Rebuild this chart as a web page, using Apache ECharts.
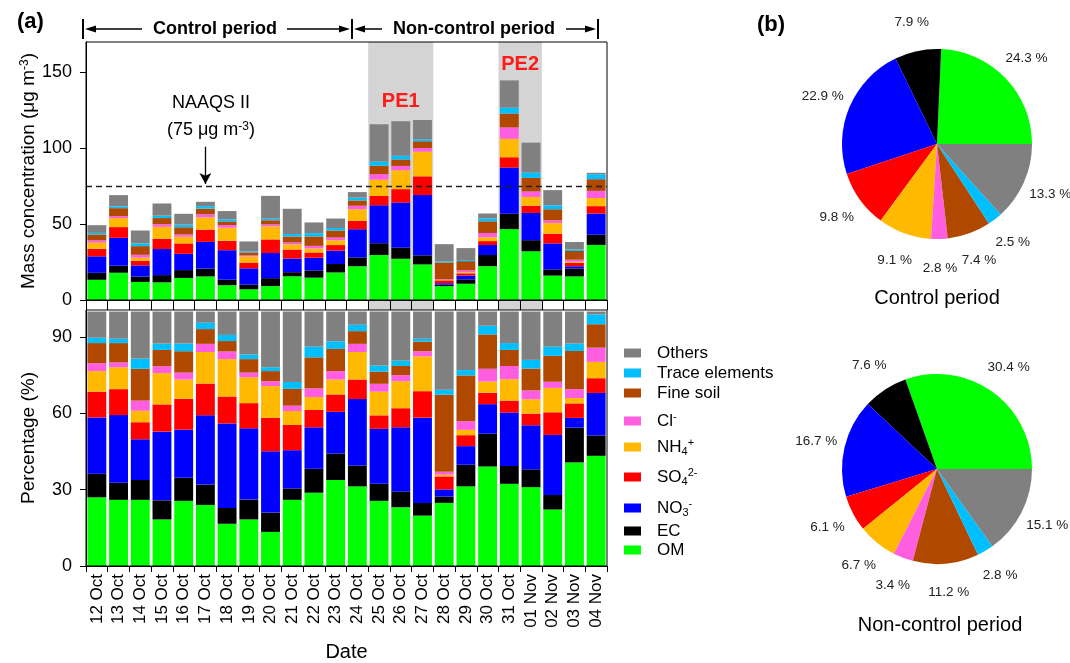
<!DOCTYPE html>
<html><head><meta charset="utf-8">
<script src="https://cdn.jsdelivr.net/npm/echarts@6/dist/echarts.min.js"></script>
<style>html,body{margin:0;padding:0;background:#fff}#c{width:1070px;height:663px}</style>
</head><body><div id="c"></div>
<script>
// ---------------- DATA ----------------
const dates = ['12 Oct','13 Oct','14 Oct','15 Oct','16 Oct','17 Oct','18 Oct','19 Oct','20 Oct','21 Oct','22 Oct','23 Oct','24 Oct','25 Oct','26 Oct','27 Oct','28 Oct','29 Oct','30 Oct','31 Oct','01 Nov','02 Nov','03 Nov','04 Nov'];
// total PM2.5 mass (ug m-3)
const totalMass = [49.3,69.1,45.8,63.6,56.8,64.7,58.6,38.6,68.6,60.1,51.1,53.7,71.1,115.8,117.8,118.6,36.8,34.2,57.0,144.7,103.7,72.4,38.2,83.8];
// daily percentage of each component (%)
const pctOM     = [27.0,26.0,26.0,18.3,25.6,24.0,16.6,18.3,13.4,26.0,28.8,33.8,31.3,25.6,23.1,19.8,24.8,31.3,39.1,32.3,31.0,22.2,40.7,43.3];
const pctEC     = [9.3,6.7,7.8,7.5,9.1,8.0,6.2,7.8,7.6,4.5,9.4,10.4,8.2,6.7,6.2,5.0,2.5,8.5,12.9,7.0,7.0,5.7,13.7,8.0];
const pctNO3    = [22.1,26.6,16.0,27.0,18.9,27.2,33.2,28.0,24.1,15.0,16.3,16.4,26.1,21.6,25.2,33.5,2.8,7.3,11.6,21.0,17.3,23.6,3.8,16.7];
const pctSO4    = [10.1,10.2,6.7,10.7,12.1,12.5,10.6,9.9,13.1,9.9,6.8,6.8,7.7,5.3,7.5,10.4,5.1,4.3,4.5,4.7,4.6,8.9,5.7,5.8];
const pctNH4    = [8.1,8.6,4.5,12.3,7.6,12.4,14.7,10.2,12.5,5.5,5.1,5.9,10.8,9.3,10.6,13.7,0.7,2.1,4.4,8.4,5.6,9.6,2.1,6.4];
const pctCl     = [3.1,1.9,4.0,2.7,2.7,3.2,3.0,1.8,1.9,2.1,3.4,3.3,3.2,3.1,2.4,2.0,1.1,3.4,5.0,5.2,3.5,2.4,3.5,5.6];
const pctSoil   = [7.9,7.6,12.5,6.4,8.4,5.8,4.1,5.3,4.0,6.6,12.2,8.7,5.0,4.8,3.6,3.8,30.3,18.0,13.5,6.3,8.6,10.2,15.0,9.2];
const pctTrace  = [2.1,1.7,4.0,2.5,3.0,2.5,2.4,1.8,1.5,2.7,4.2,3.0,2.5,2.4,2.1,1.1,2.0,2.1,3.4,2.7,3.4,3.6,2.9,3.9];
const pctOthers = [10.3,10.7,18.5,12.6,12.6,4.4,9.2,16.9,21.9,27.7,13.8,11.7,5.2,21.2,19.3,10.7,30.7,23.0,5.6,12.4,19.0,13.8,12.6,1.1];
// period-mean composition (%) for the pies, order: OM, EC, NO3, SO4, NH4, Cl, Fine soil, Trace, Others
const pieControl    = [24.3,7.9,22.9,9.8,9.1,2.8,7.4,2.5,13.3];
const pieNonControl = [30.4,7.6,16.7,6.1,6.7,3.4,11.2,2.8,15.1];
// episode ranges (category indices, band edges)
const pe1Range = [13,16];
const pe2Range = [19,21];
const naaqs = 75;
const massTicks = [0,50,100,150];
const pctTicks = [0,30,60,90];

// ---------------- STYLE ----------------
const names  = ['OM','EC','NO3','SO4','NH4','Cl','Fine soil','Trace elements','Others'];
const colors = ['#00ff00','#000000','#0000ff','#ff0000','#ffb900','#ff5ee0','#b04800','#00bfff','#808080'];
const pcts   = [pctOM,pctEC,pctNO3,pctSO4,pctNH4,pctCl,pctSoil,pctTrace,pctOthers];
const legendText = {'OM':'OM','EC':'EC','NO3':'NO{sub|3}{sup|-}','SO4':'SO{sub|4}{sup|2-}','NH4':'NH{sub|4}{sup|+}','Cl':'Cl{sup|-}','Fine soil':'Fine soil','Trace elements':'Trace elements','Others':'Others'};
const legendYc = {'Others':353,'Trace elements':373,'Fine soil':393,'Cl':421,'NH4':447,'SO4':477,'NO3':508,'EC':531,'OM':550};
const FONT = 'Liberation Sans, Arial, Helvetica, sans-serif';
const GL = 86, GR = 463;

const chart = echarts.init(document.getElementById('c'), null, {renderer:'canvas'});

const series = [];
// shading for pollution episodes (spans top panel + strip)
series.push({
  type:'line', xAxisIndex:3, yAxisIndex:2, data:[], silent:true, z:1,
  markArea:{ silent:true, z:1, itemStyle:{color:'#d4d4d4'},
    label:{show:true, color:'#ff1a1a', fontSize:20, fontWeight:'bold', fontFamily:FONT, align:'center', verticalAlign:'middle'},
    data:[
      [{name:'PE1', xAxis:pe1Range[0], label:{position:['50%',59]}},{xAxis:pe1Range[1]}],
      [{name:'PE2', xAxis:pe2Range[0], label:{position:['50%',22]}},{xAxis:pe2Range[1]}]
    ]}
});
// NAAQS dashed line
series.push({
  type:'line', xAxisIndex:2, yAxisIndex:0, data:[], silent:true, z:3,
  markLine:{ silent:true, symbol:['none','none'], label:{show:false}, animation:false,
    lineStyle:{type:[6,4], color:'#222', width:1.3},
    data:[{yAxis:naaqs}]}
});
// NAAQS arrow
series.push({
  type:'line', xAxisIndex:2, yAxisIndex:0, data:[], silent:true, z:3,
  markLine:{ silent:true, symbol:['none','arrow'], symbolSize:[9,11], label:{show:false}, animation:false,
    lineStyle:{type:'solid', color:'#000', width:1.3},
    data:[[{coord:[5.5,101]},{coord:[5.5,76.5]}]]}
});
names.forEach((n,i)=>{
  series.push({
    name:n, type:'bar', stack:'mass', xAxisIndex:0, yAxisIndex:0, barCategoryGap:'13%', z:2,
    itemStyle:{color:colors[i]},
    data: totalMass.map((t,j)=> +(t*pcts[i][j]/100).toFixed(3))
  });
});
names.forEach((n,i)=>{
  series.push({
    name:n, type:'bar', stack:'pct', xAxisIndex:1, yAxisIndex:1, barCategoryGap:'13%', z:2,
    itemStyle:{color:colors[i]},
    data: pcts[i]
  });
});
function pieData(vals){ return vals.map((v,i)=>({name:names[i], value:v, itemStyle:{color:colors[i]}})); }
[[pieControl,144],[pieNonControl,469]].forEach(([vals,cy])=>{
  series.push({type:'pie', center:[937,cy], radius:95, startAngle:0, clockwise:false, silent:true,
    label:{show:false}, labelLine:{show:false}, itemStyle:{borderWidth:0}, data:pieData(vals), animation:false});
  series.push({type:'pie', center:[937,cy], radius:[95,147], startAngle:0, clockwise:false, silent:true,
    itemStyle:{color:'rgba(0,0,0,0)', borderWidth:0},
    label:{show:true, position:'inside', formatter:'{c} %', fontSize:13.5, color:'#222', fontFamily:FONT},
    labelLine:{show:false}, data:vals.map((v,i)=>({name:'lbl'+i, value:v})), animation:false});
});

const legends = names.map(n=>({
  data:[n], orient:'vertical', left:624, top:legendYc[n]-10, padding:0, selectedMode:false,
  icon:'rect', itemWidth:17, itemHeight:9,
  formatter:()=>legendText[n],
  textStyle:{fontSize:17, color:'#000', fontFamily:FONT, lineHeight:20, padding:[0,0,0,11],
    rich:{ sub:{fontSize:11, lineHeight:8, verticalAlign:'bottom', fontFamily:FONT, color:'#000'},
           sup:{fontSize:11, lineHeight:8, verticalAlign:'top', fontFamily:FONT, color:'#000'} }}
}));

const axisCommon = {axisLine:{show:true, lineStyle:{color:'#000', width:1}}, axisTick:{lineStyle:{color:'#000'}}};

function arrowHead(x, y, dir){ // dir -1 left, +1 right
  return {type:'polygon', shape:{points:[[x,y],[x-dir*11,y-3.5],[x-dir*11,y+3.5]]}, style:{fill:'#000'}};
}
const hy = 29;
const graphic = [
  {type:'text', x:17, y:22, style:{text:'(a)', font:'bold 22px '+FONT, fill:'#000', textVerticalAlign:'middle'}},
  {type:'text', x:757, y:25, style:{text:'(b)', font:'bold 22px '+FONT, fill:'#000', textVerticalAlign:'middle'}},
  {type:'line', shape:{x1:83,y1:19,x2:83,y2:39}, style:{stroke:'#000', lineWidth:2}},
  {type:'line', shape:{x1:90,y1:hy,x2:142,y2:hy}, style:{stroke:'#000', lineWidth:1.5}},
  arrowHead(85,hy,-1),
  {type:'text', x:215, y:hy, style:{text:'Control period', font:'bold 18px '+FONT, fill:'#000', textAlign:'center', textVerticalAlign:'middle'}},
  {type:'line', shape:{x1:287,y1:hy,x2:344,y2:hy}, style:{stroke:'#000', lineWidth:1.5}},
  arrowHead(350,hy,1),
  {type:'line', shape:{x1:352,y1:19,x2:352,y2:39}, style:{stroke:'#000', lineWidth:2}},
  {type:'line', shape:{x1:360,y1:hy,x2:382,y2:hy}, style:{stroke:'#000', lineWidth:1.5}},
  arrowHead(354,hy,-1),
  {type:'text', x:474, y:hy, style:{text:'Non-control period', font:'bold 18px '+FONT, fill:'#000', textAlign:'center', textVerticalAlign:'middle'}},
  {type:'line', shape:{x1:566,y1:hy,x2:590,y2:hy}, style:{stroke:'#000', lineWidth:1.5}},
  arrowHead(596,hy,1),
  {type:'line', shape:{x1:598,y1:19,x2:598,y2:39}, style:{stroke:'#000', lineWidth:2}},
  {type:'text', x:211, y:103, style:{text:'NAAQS II', font:'18px '+FONT, fill:'#000', textAlign:'center', textVerticalAlign:'middle'}},
  {type:'text', x:211, y:130, style:{text:'(75 μg m{sup|-3})', font:'18px '+FONT, fill:'#000', textAlign:'center', textVerticalAlign:'middle',
     rich:{sup:{fontSize:12, lineHeight:8, verticalAlign:'top', fontFamily:FONT, fill:'#000'}}}},
  {type:'text', x:937, y:298, style:{text:'Control period', font:'20px '+FONT, fill:'#000', textAlign:'center', textVerticalAlign:'middle'}},
  {type:'text', x:940, y:625, style:{text:'Non-control period', font:'20px '+FONT, fill:'#000', textAlign:'center', textVerticalAlign:'middle'}}
];

chart.setOption({
  animation:false,
  backgroundColor:'#fff',
  textStyle:{fontFamily:FONT},
  grid:[
    {left:GL, right:GR, top:42, height:258, show:true, borderColor:'#000', borderWidth:1, z:5, backgroundColor:'rgba(0,0,0,0)'},
    {left:GL, right:GR, top:310, height:257, show:true, borderColor:'#000', borderWidth:1, z:5, backgroundColor:'rgba(0,0,0,0)'},
    {left:GL, right:GR, top:42, height:268}
  ],
  xAxis:[
    Object.assign({}, axisCommon, {gridIndex:0, type:'category', data:dates, z:5,
      axisLabel:{show:false}, axisTick:{show:true, interval:0, length:10, lineStyle:{color:'#000'}}}),
    Object.assign({}, axisCommon, {gridIndex:1, type:'category', data:dates, z:5,
      axisLabel:{interval:0, rotate:90, fontSize:17, color:'#000', margin:8},
      axisTick:{show:true, interval:0, length:6, lineStyle:{color:'#000'}},
      name:'Date', nameLocation:'middle', nameGap:76, nameTextStyle:{fontSize:20, color:'#000'}}),
    {gridIndex:0, type:'value', min:0, max:24, show:false, position:'top'},
    {gridIndex:2, type:'value', min:0, max:24, show:false}
  ],
  yAxis:[
    Object.assign({}, axisCommon, {gridIndex:0, type:'value', min:0, max:170, z:5,
      splitLine:{show:false},
      axisTick:{show:true, length:6, customValues:massTicks, lineStyle:{color:'#000'}},
      axisLabel:{fontSize:18, color:'#000', margin:14, customValues:massTicks},
      name:'Mass concentration (μg m{sup|-3})', nameLocation:'middle', nameGap:48,
      nameTextStyle:{fontSize:19, color:'#000', rich:{sup:{fontSize:12, lineHeight:8, verticalAlign:'top', color:'#000'}}}}),
    Object.assign({}, axisCommon, {gridIndex:1, type:'value', min:0, max:100.6, z:5,
      splitLine:{show:false},
      axisTick:{show:true, length:6, customValues:pctTicks, lineStyle:{color:'#000'}},
      axisLabel:{fontSize:18, color:'#000', margin:14, customValues:pctTicks},
      name:'Percentage (%)', nameLocation:'middle', nameGap:48, nameTextStyle:{fontSize:19, color:'#000'}}),
    {gridIndex:2, type:'value', min:0, max:1, show:false}
  ],
  legend: legends,
  graphic: graphic,
  series: series
});
</script></body></html>
